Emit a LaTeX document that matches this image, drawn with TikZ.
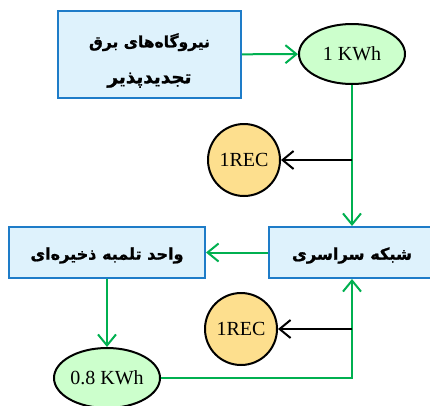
\documentclass[tikz,border=0pt]{standalone}
\usepackage{graphicx}
\usepackage{fontspec}
\setmainfont{Liberation Serif}
\newfontfamily\persianfont[Script=Arabic, BoldFeatures={FakeBold=1.2}]{DejaVu Sans}
\TeXXeTstate=1
\usetikzlibrary{arrows.meta,shapes.geometric}

\definecolor{boxfill}{HTML}{DEF2FC}
\definecolor{boxline}{HTML}{1E7CC8}
\definecolor{kwhfill}{HTML}{CCFFCC}
\definecolor{recfill}{HTML}{FDDF8E}
\definecolor{flowgreen}{HTML}{00B050}

% text set to a given width, lowered a little
\newcommand{\fatext}[3][3pt]{\raisebox{-#1}[\height][\depth]{\resizebox{#2}{!}{#3}}}

\tikzset{
  unitbox/.style={draw=boxline, fill=boxfill, line width=2pt, inner sep=0pt,
    align=center, font=\persianfont\bfseries\fontsize{17}{36}\selectfont},
  kwhnode/.style={ellipse, draw=black, fill=kwhfill, line width=2pt, inner sep=0pt,
    minimum width=106pt, minimum height=60pt, font=\fontsize{20}{22}\selectfont},
  recnode/.style={circle, draw=black, fill=recfill, line width=2pt, inner sep=0pt,
    minimum size=72pt, font=\fontsize{20}{22}\selectfont},
  flow/.style={draw=flowgreen, line width=2pt, -{Straight Barb[length=11pt,width=18pt,line width=2pt]}},
  certflow/.style={draw=black, line width=2pt, -{Straight Barb[length=11pt,width=18pt,line width=2pt]}}
}

\begin{document}
\begin{tikzpicture}[x=1pt, y=-1pt]

\useasboundingbox (0,0) rectangle (430,405);
\clip (0,0) rectangle (430,405);

% boxes
\node[unitbox, minimum width=183pt, minimum height=87pt] (plant) at (149.5,54.5)
  {\fatext[6pt]{121pt}{\beginR نیروگاه‌های برق\endR}\\
   \fatext[6pt]{84pt}{\beginR تجدیدپذیر\endR}};
\node[unitbox, minimum width=166pt, minimum height=51pt] (grid) at (352,252.5)
  {\fatext{120pt}{\beginR شبکه سراسری\endR}};
\node[unitbox, minimum width=196pt, minimum height=51pt] (pump) at (107,252.5)
  {\fatext{153pt}{\beginR واحد تلمبه ذخیره‌ای\endR}};

% energy and certificates
\node[kwhnode] (kwh1) at (352,54) {1 KWh};
\node[kwhnode] (kwh2) at (107,378) {0.8 KWh};
\node[recnode] (rec1) at (244,160) {1REC};
\node[recnode] (rec2) at (241,329) {1REC};

\coordinate (tap1) at (kwh1 |- rec1);
\coordinate (tap2) at (kwh1 |- rec2);
\coordinate (bend) at (kwh1 |- kwh2);

% connectors
\draw[flow] (plant) -- (kwh1);
\draw[flow] (kwh1) -- (grid);
\draw[certflow] (tap1) -- (rec1);
\draw[flow] (grid) -- (pump);
\draw[flow] (pump) -- (kwh2);
\draw[flow] (kwh2) -- (bend) -- (grid);
\draw[certflow] (tap2) -- (rec2);

\end{tikzpicture}
\end{document}
